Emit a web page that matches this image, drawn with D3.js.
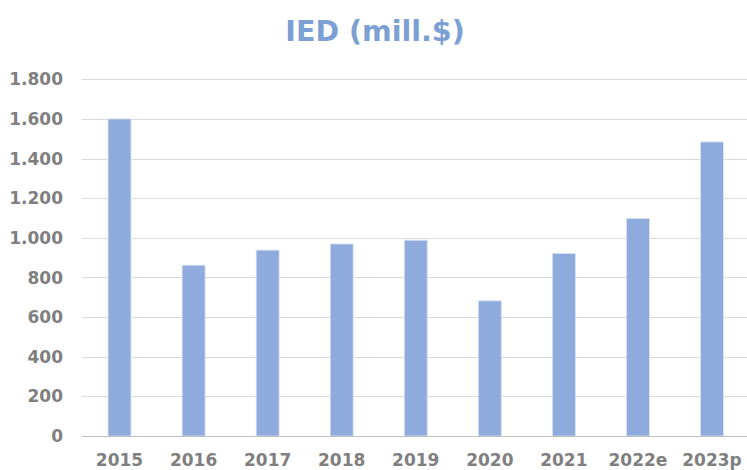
<!DOCTYPE html>
<html>
<head>
<meta charset="utf-8">
<script src="https://cdn.jsdelivr.net/npm/d3@7"></script>
<style>
  body { margin: 0; background: #fff; }
  text { font-family: "DejaVu Sans", sans-serif; font-weight: bold; }
</style>
</head>
<body>
<svg id="chart" width="747" height="470"></svg>
<script>
var width = 747;
var height = 470;

var years = ["2015", "2016", "2017", "2018", "2019", "2020", "2021", "2022e", "2023p"];
var values = [1600, 862, 938, 969, 988, 682, 921, 1098, 1484];
var yTicks = [0, 200, 400, 600, 800, 1000, 1200, 1400, 1600, 1800];

var svg = d3.select("#chart");

var xScale = d3.scaleBand()
  .domain(years)
  .range([82.5, 749])
  .paddingInner(0.69)
  .paddingOuter(0.345);

var yScale = d3.scaleLinear()
  .domain([0, 1800])
  .range([436, 79.3]);

// dutch style thousands: 1.800
var fmt = function(d) {
  return d3.format(",")(d).replace(/,/g, ".");
};

// gridlines
svg.append("g")
  .selectAll("line")
  .data(yTicks.slice(1))
  .enter().append("line")
  .attr("x1", 82)
  .attr("x2", 747)
  .attr("y1", function(d) { return Math.round(yScale(d)) + 0.5; })
  .attr("y2", function(d) { return Math.round(yScale(d)) + 0.5; })
  .attr("stroke", "#d9d9d9")
  .attr("stroke-width", 1);

// y labels
svg.append("g")
  .selectAll("text")
  .data(yTicks)
  .enter().append("text")
  .attr("x", 63)
  .attr("y", function(d) { return yScale(d); })
  .attr("dy", "0.36em")
  .attr("text-anchor", "end")
  .attr("fill", "#7f7f7f")
  .attr("font-size", 17)
  .text(fmt);

// bars
svg.append("g")
  .selectAll("rect")
  .data(values)
  .enter().append("rect")
  .attr("x", function(d, i) { return xScale(years[i]); })
  .attr("y", function(d) { return yScale(d); })
  .attr("width", xScale.bandwidth())
  .attr("height", function(d) { return yScale(0) - yScale(d); })
  .attr("fill", "#8faadc")
  .attr("stroke", "#dae3f3")
  .attr("stroke-width", 0.8);

// base axis line
svg.append("line")
  .attr("x1", 82)
  .attr("x2", 747)
  .attr("y1", Math.round(yScale(0)) + 0.5)
  .attr("y2", Math.round(yScale(0)) + 0.5)
  .attr("stroke", "#bfbfbf")
  .attr("stroke-width", 1);

// x labels
svg.append("g")
  .selectAll("text")
  .data(years)
  .enter().append("text")
  .attr("x", function(d) { return xScale(d) + xScale.bandwidth() / 2; })
  .attr("y", 466)
  .attr("text-anchor", "middle")
  .attr("fill", "#7f7f7f")
  .attr("font-size", 17)
  .text(function(d) { return d; });

// title
svg.append("text")
  .attr("x", 375)
  .attr("y", 41)
  .attr("text-anchor", "middle")
  .attr("fill", "#7c9fd4")
  .attr("font-size", 28.5)
  .text("IED (mill.$)");
</script>
</body>
</html>
